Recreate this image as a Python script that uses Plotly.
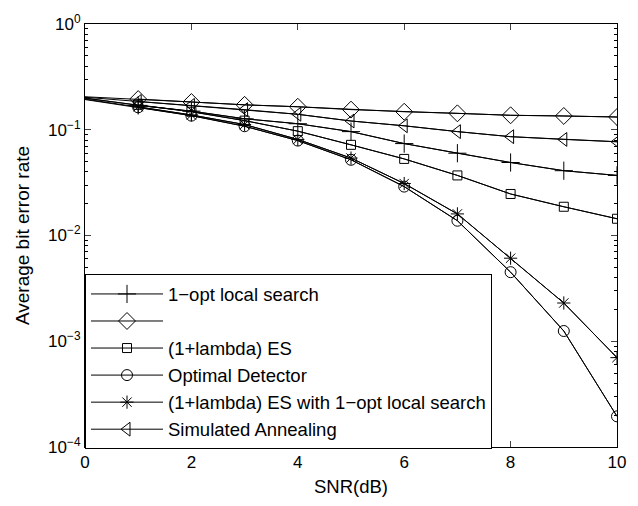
import plotly.graph_objects as go

# SNR points (dB)
snr = [0, 1, 2, 3, 4, 5, 6, 7, 8, 9, 10]

# Average bit error rate per detector
ber_1opt = [0.200, 0.170, 0.150, 0.127, 0.114, 0.096, 0.074, 0.060, 0.049, 0.041, 0.037]
ber_diamond = [0.205, 0.195, 0.183, 0.172, 0.165, 0.155, 0.148, 0.143, 0.137, 0.135, 0.132]
ber_es = [0.198, 0.172, 0.148, 0.122, 0.097, 0.072, 0.053, 0.037, 0.0247, 0.0187, 0.0144]
ber_optimal = [0.193, 0.163, 0.136, 0.108, 0.079, 0.052, 0.029, 0.0138, 0.0045, 0.00125, 0.000195]
ber_es_1opt = [0.195, 0.165, 0.138, 0.112, 0.081, 0.054, 0.031, 0.016, 0.0061, 0.0023, 0.0007]
ber_sa = [0.203, 0.185, 0.170, 0.155, 0.140, 0.121, 0.109, 0.096, 0.086, 0.081, 0.077]

series_names = [
    "1\u2212opt local search",
    " ",
    "(1+lambda) ES",
    "Optimal Detector",
    "(1+lambda) ES with 1\u2212opt local search",
    "Simulated Annealing",
]
series_values = [ber_1opt, ber_diamond, ber_es, ber_optimal, ber_es_1opt, ber_sa]
symbols = ["cross-thin-open", "diamond-open", "square-open", "circle-open",
           "asterisk-open", "triangle-left-open"]
sizes = [13, 13, 9, 11, 11, 12]

y_tick_vals = [1e-4, 1e-3, 1e-2, 1e-1, 1]
y_tick_text = ["10<sup>\u22124</sup>", "10<sup>\u22123</sup>", "10<sup>\u22122</sup>",
               "10<sup>\u22121</sup>", "10<sup>0</sup>"]
x_tick_vals = [0, 2, 4, 6, 8, 10]

FONT = "Liberation Sans, Arial, Helvetica, sans-serif"

fig = go.Figure()
for i, (name, vals, sym, sz) in enumerate(zip(series_names, series_values, symbols, sizes)):
    grp = f"g{i}"
    # line through every SNR point
    fig.add_trace(go.Scatter(
        x=snr, y=vals, mode="lines", legendgroup=grp, showlegend=False,
        line=dict(color="black", width=1), hoverinfo="skip",
    ))
    # markers from 1 dB onwards
    fig.add_trace(go.Scatter(
        x=snr[1:], y=vals[1:], mode="lines+markers", name=name, legendgroup=grp,
        line=dict(color="black", width=1),
        marker=dict(symbol=sym, size=sz, color="black",
                    line=dict(color="black", width=1)),
    ))

minor_vals = [k * 10 ** p for p in range(-4, 0) for k in range(2, 10)]

fig.update_layout(
    width=638, height=506,
    margin=dict(l=85, r=13, t=19, b=59),
    paper_bgcolor="white", plot_bgcolor="white",
    font=dict(family=FONT, size=16, color="black"),
    showlegend=True,
    legend=dict(
        x=0, y=0.408, xanchor="left", yanchor="top",
        bgcolor="white", bordercolor="black", borderwidth=1,
        font=dict(family=FONT, size=18.5, color="black"),
        tracegroupgap=0, traceorder="grouped",
        itemwidth=72,
    ),
    xaxis=dict(
        range=[0, 10], tickvals=x_tick_vals, ticks="inside", ticklen=6,
        showline=True, linecolor="black", linewidth=1, mirror="allticks",
        showgrid=False, zeroline=False,
        tickfont=dict(size=17),
        title=dict(text="SNR(dB)", font=dict(size=18.5), standoff=8),
    ),
    yaxis=dict(
        type="log", range=[-4, 0], tickvals=y_tick_vals, ticktext=y_tick_text,
        ticks="inside", ticklen=6,
        showline=True, linecolor="black", linewidth=1, mirror="allticks",
        showgrid=False, zeroline=False,
        tickfont=dict(size=17),
        minor=dict(tickvals=minor_vals, ticks="inside", ticklen=3,
                   tickcolor="black", showgrid=False),
        title=dict(text="Average bit error rate", font=dict(size=19), standoff=13),
    ),
)

fig.write_html("out.html")
